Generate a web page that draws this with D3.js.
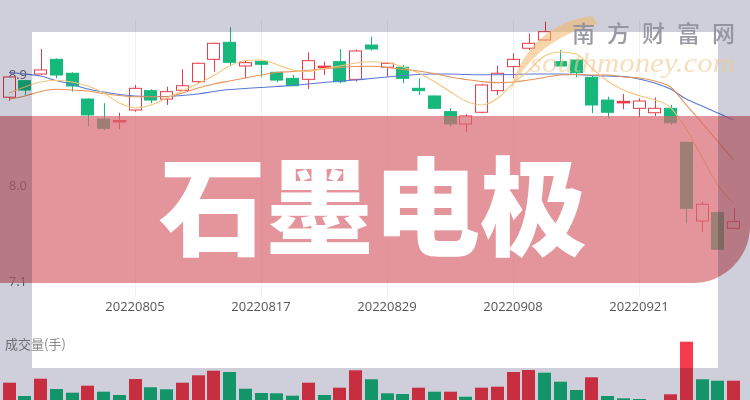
<!DOCTYPE html>
<html><head><meta charset="utf-8">
<script src="https://cdn.jsdelivr.net/npm/d3@7/dist/d3.min.js"></script>
<style>html,body{margin:0;padding:0;background:#fff;overflow:hidden}</style>
</head><body>
<svg id="c" width="750" height="400"></svg>
<script>
const dates = ["20220726","20220727","20220728","20220729","20220801","20220802","20220803","20220804","20220805","20220808",
"20220809","20220810","20220811","20220812","20220815","20220816","20220817","20220818","20220819","20220822",
"20220823","20220824","20220825","20220826","20220829","20220830","20220831","20220901","20220902","20220905",
"20220906","20220907","20220908","20220909","20220913","20220914","20220915","20220916","20220919","20220920",
"20220921","20220922","20220923","20220926","20220927","20220928","20220929"];
const open  = [8.72,8.854,8.908,9.027,8.914,8.705,8.543,8.525,8.616,8.773,8.705,8.776,8.846,9.027,9.165,8.973,9.011,8.922,8.873,8.865,8.965,9.008,8.865,9.143,8.963,8.963,8.792,8.73,8.603,8.503,8.598,8.773,8.968,9.117,9.184,9.008,9.022,8.881,8.697,8.68,8.63,8.594,8.63,8.354,7.716,7.784,7.657];
const high  = [8.89,8.86,9.111,9.035,8.922,8.711,8.671,8.594,8.819,8.784,8.805,8.946,9.0,9.162,9.287,9.022,9.016,8.927,8.9,9.084,9.008,9.111,9.108,9.211,9.0,8.981,8.873,8.734,8.63,8.581,8.827,8.976,9.076,9.238,9.332,9.103,9.027,8.892,8.724,8.746,8.711,8.719,8.657,8.357,7.873,7.792,7.819];
const low   = [8.69,8.738,8.9,8.873,8.765,8.486,8.454,8.46,8.603,8.671,8.657,8.773,8.833,8.927,8.981,8.873,8.881,8.841,8.811,8.786,8.9,8.833,8.846,9.097,8.886,8.833,8.738,8.624,8.481,8.44,8.59,8.738,8.873,9.103,9.178,8.968,8.881,8.59,8.549,8.622,8.557,8.568,8.495,7.698,7.629,7.487,7.649];
const close = [8.884,8.778,8.941,8.9,8.811,8.576,8.468,8.53,8.792,8.697,8.765,8.813,8.995,9.157,9.003,9.0,8.987,8.859,8.813,9.016,8.97,8.846,9.095,9.111,8.995,8.873,8.773,8.63,8.503,8.568,8.819,8.914,9.027,9.157,9.251,8.973,8.919,8.657,8.598,8.685,8.689,8.63,8.513,7.819,7.852,7.487,7.711];
const ma5  = [8.754,8.803,8.843,8.855,8.843,8.811,8.754,8.673,8.632,8.657,8.711,8.770,8.831,8.896,8.973,9.018,9.022,8.985,8.941,8.928,8.953,8.973,8.997,9.008,9.001,8.965,8.916,8.847,8.766,8.689,8.657,8.709,8.833,8.936,9.054,9.086,9.070,8.957,8.851,8.778,8.734,8.697,8.636,8.462,8.235,8.008,7.862];
const ma10 = [8.705,8.730,8.766,8.784,8.778,8.770,8.750,8.734,8.724,8.724,8.724,8.754,8.795,8.827,8.851,8.876,8.900,8.920,8.928,8.938,8.949,8.961,8.969,8.971,8.961,8.945,8.932,8.912,8.884,8.864,8.847,8.838,8.843,8.859,8.880,8.900,8.904,8.900,8.900,8.884,8.876,8.851,8.803,8.657,8.511,8.361,8.211];
const ma20 = [8.920,8.908,8.892,8.855,8.823,8.786,8.762,8.742,8.730,8.726,8.726,8.734,8.746,8.766,8.782,8.791,8.799,8.807,8.815,8.827,8.839,8.851,8.859,8.872,8.884,8.896,8.904,8.908,8.908,8.904,8.902,8.902,8.904,8.908,8.908,8.908,8.904,8.896,8.892,8.888,8.868,8.835,8.786,8.705,8.649,8.592,8.535];
const volume = [38600,12000,46600,26000,18600,32600,20600,14000,46000,29400,25400,38600,53400,62600,60000,26600,18000,17400,12600,38600,14000,28600,63400,45400,17400,16000,28600,20600,20600,10600,28600,30600,60000,64000,58600,40600,24000,49400,12000,7400,6000,4000,15400,120600,45400,42600,42600];
const volUp = [1,0,1,0,0,1,0,0,1,0,0,1,1,1,0,0,0,0,0,1,0,1,1,0,0,0,1,0,1,0,1,1,1,1,0,0,0,1,0,0,0,0,1,1,0,0,1];
const yTicks = [8.9, 8.0, 7.1];
const xTickLabels = ["20220805","20220817","20220829","20220908","20220921"];
const title = "石墨电极";
const volLabel = "成交量(手)";
const brand = "南方财富网";
const brandUrl = "southmoney.com";

const W = 750, H = 400;
const RED = "#ec3a48", GREEN = "#17b87b", VRED = "#f73a4c";
const svg = d3.select("#c");
svg.append("rect").attr("width", W).attr("height", H).attr("fill", "#fff");

const x = d3.scaleBand().domain(dates).range([1.125, 741.375]).paddingInner(0.2).paddingOuter(0.1);
const bw = x.bandwidth();
const cx = d => x(d) + bw / 2;
const y = d3.scaleLinear().domain([8.0, 8.9]).range([186, 75]);
const yv = d3.scaleLinear().domain([0, 120000]).range([402, 342]);

// grid
svg.append("g").selectAll("line").data(xTickLabels).join("line")
  .attr("x1", d => Math.round(cx(d)) + 0.5).attr("x2", d => Math.round(cx(d)) + 0.5)
  .attr("y1", 20).attr("y2", 297).attr("stroke", "#f1f1f1");

// axes
const ya = svg.append("g").attr("transform", "translate(30,0)")
  .call(d3.axisLeft(y).tickValues(yTicks).tickFormat(d3.format(".1f")).tickSize(0).tickPadding(3));
ya.select(".domain").remove();
ya.selectAll(".tick").attr("transform", d => `translate(0,${Math.min(y(d), 282)})`);
ya.selectAll("text").attr("font-family", "'Open Sans', sans-serif").attr("font-size", 13).attr("fill", "#666");

const xa = svg.append("g").attr("transform", "translate(0,302)")
  .call(d3.axisBottom(x).tickValues(xTickLabels).tickSize(0).tickPadding(0));
xa.select(".domain").remove();
xa.selectAll("text").attr("font-family", "'Open Sans', sans-serif").attr("font-size", 13).attr("fill", "#555");

// candles
const idx = d3.range(dates.length);
const cg = svg.append("g").selectAll("g").data(idx).join("g");
cg.append("line")
  .attr("x1", i => Math.round(cx(dates[i])) + 0.5).attr("x2", i => Math.round(cx(dates[i])) + 0.5)
  .attr("y1", i => y(high[i])).attr("y2", i => y(low[i]))
  .attr("stroke", i => close[i] >= open[i] ? RED : GREEN).attr("stroke-width", 1);
cg.append("rect")
  .attr("x", i => Math.round(x(dates[i])) + 0.5)
  .attr("width", Math.round(bw) - 1)
  .attr("y", i => y(Math.max(open[i], close[i])))
  .attr("height", i => Math.max(1.2, Math.abs(y(open[i]) - y(close[i]))))
  .attr("fill", i => close[i] >= open[i] ? "#fff" : GREEN)
  .attr("stroke", i => close[i] >= open[i] ? RED : GREEN)
  .attr("stroke-width", i => Math.abs(y(open[i]) - y(close[i])) < 2 ? 1.4 : 1);

// moving averages
const line = arr => d3.line().x((d, i) => cx(dates[i])).y(d => y(d)).curve(d3.curveMonotoneX)(arr);
[[ma20, "#5b78d4"], [ma10, "#e6935a"], [ma5, "#f3c57c"]].forEach(([arr, col]) => {
  svg.append("path").attr("d", line(arr)).attr("fill", "none").attr("stroke", col).attr("stroke-width", 1.1);
});

// volume
svg.append("g").selectAll("rect").data(idx).join("rect")
  .attr("x", i => Math.round(x(dates[i])))
  .attr("width", Math.round(bw))
  .attr("y", i => yv(volume[i]))
  .attr("height", i => yv(0) - yv(volume[i]))
  .attr("fill", i => volUp[i] ? VRED : GREEN);

svg.append("text").attr("x", 5).attr("y", 343).attr("dominant-baseline", "central")
  .attr("font-family", "'Noto Sans CJK SC', sans-serif").attr("font-size", 13).attr("fill", "#888")
  .text(volLabel);

// pink banner
svg.append("path")
  .attr("d", "M0,116H750V226A57,57 0 0 1 693,283H0Z")
  .attr("fill", "rgb(215,104,112)").attr("fill-opacity", 0.7);

svg.append("text").attr("x", 373).attr("y", 200)
  .attr("text-anchor", "middle").attr("dominant-baseline", "central")
  .attr("font-family", "'Noto Sans CJK SC', sans-serif").attr("font-weight", 900)
  .attr("font-size", 107).attr("fill", "#fff").text(title);

// grey frame (multiply)
svg.append("path")
  .attr("d", "M0,0H750V400H0Z M32,32V368H718V32Z")
  .attr("fill-rule", "evenodd").attr("fill", "#cecfda")
  .style("mix-blend-mode", "multiply");

// watermark
svg.append("path")
  .attr("d", "M592,16C556,20 522,44 510,92C526,58 556,34 598,24Z")
  .attr("fill", "#f0b466").attr("fill-opacity", 0.55);
svg.append("text").attr("x", 530).attr("y", 72)
  .attr("font-family", "'Liberation Serif', serif").attr("font-style", "italic")
  .attr("font-size", 27).attr("textLength", 205).attr("lengthAdjust", "spacingAndGlyphs")
  .attr("fill", "#f0c890").attr("fill-opacity", 0.6).text(brandUrl);
svg.append("text").attr("x", 572).attr("y", 32).attr("dominant-baseline", "central")
  .attr("font-family", "'Noto Sans CJK SC', sans-serif").attr("font-weight", 500)
  .attr("font-size", 23).attr("textLength", 163).attr("lengthAdjust", "spacing")
  .attr("fill", "#8e8e9a").attr("fill-opacity", 0.9).text(brand);
</script>
</body></html>
